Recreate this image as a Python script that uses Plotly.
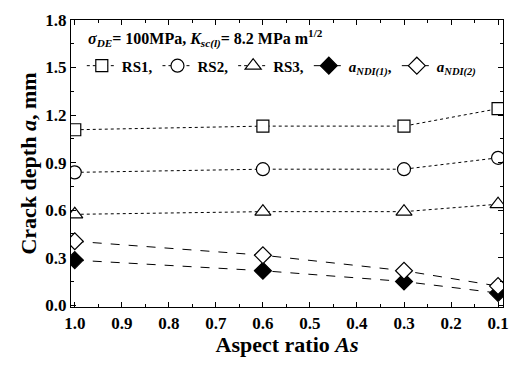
import plotly.graph_objects as go

aspect = [1.0, 0.6, 0.3, 0.1]
rs1 = [1.107, 1.13, 1.13, 1.24]
rs2 = [0.838, 0.858, 0.858, 0.93]
rs3 = [0.573, 0.59, 0.59, 0.637]
ndi1 = [0.284, 0.217, 0.149, 0.076]
ndi2 = [0.403, 0.315, 0.217, 0.12]

font = "Liberation Serif"
fig = go.Figure()

series = [
    ("RS1,", rs1, "square", 12, "dot", "white"),
    ("RS2,", rs2, "circle", 13, "dot", "white"),
    ("RS3,", rs3, "triangle-up", 14, "dot", "white"),
    ("<i>a</i><sub><i>NDI(1)</i></sub>,", ndi1, "diamond", 13, "dash", "black"),
    ("<i>a</i><sub><i>NDI(2)</i></sub>", ndi2, "diamond", 13, "dash", "white"),
]
for name, ys, sym, sz, dash, fill in series:
    fig.add_trace(go.Scatter(
        x=aspect, y=ys, name=name, mode="lines+markers",
        line=dict(color="black", width=1, dash=dash),
        marker=dict(symbol=sym, size=sz, color=fill,
                    line=dict(color="black", width=1.2)),
    ))

axis_common = dict(
    showline=True, linecolor="black", linewidth=1.2, mirror="ticks",
    ticks="inside", ticklen=5, tickwidth=1, tickcolor="black",
    showgrid=False, zeroline=False,
    tickfont=dict(family=font, size=17, color="black", weight="bold"),
    minor=dict(ticks="inside", ticklen=3, tickcolor="black"),
)
fig.update_xaxes(range=[1.008, 0.0895], tickvals=[1.0, 0.9, 0.8, 0.7, 0.6, 0.5, 0.4, 0.3, 0.2, 0.1],
                 ticktext=["1.0", "0.9", "0.8", "0.7", "0.6", "0.5", "0.4", "0.3", "0.2", "0.1"],
                 minor_dtick=0.05, minor_tick0=0.05,
                 title=dict(text="Aspect ratio <i>As</i>", font=dict(family=font, size=22, color="black", weight="bold"), standoff=0),
                 **axis_common)
fig.update_yaxes(range=[-0.012, 1.8], tickvals=[0.0, 0.3, 0.6, 0.9, 1.2, 1.5, 1.8],
                 ticktext=["0.0", "0.3", "0.6", "0.9", "1.2", "1.5", "1.8"],
                 minor_dtick=0.15, minor_tick0=0.15,
                 title=dict(text="Crack depth <i>a</i>, mm", font=dict(family=font, size=22, color="black", weight="bold"), standoff=2),
                 **axis_common)

fig.add_annotation(
    text="<i>σ<sub>DE</sub></i>= 100MPa, <i>K<sub>sc(l)</sub></i>= 8.2 MPa m<sup>1/2</sup>",
    xref="paper", yref="paper", x=0.035, y=0.935, xanchor="left", yanchor="middle",
    showarrow=False, font=dict(family=font, size=16, color="black", weight="bold"))

fig.update_layout(
    width=520, height=367, margin=dict(l=71, r=11, t=15, b=60),
    paper_bgcolor="white", plot_bgcolor="white",
    showlegend=True,
    legend=dict(orientation="h", x=0.025, y=0.84, xanchor="left", yanchor="middle",
                bgcolor="rgba(0,0,0,0)", itemwidth=30, tracegroupgap=0,
                font=dict(family=font, size=15, color="black", weight="bold")),
)
fig.write_html("out.html")
